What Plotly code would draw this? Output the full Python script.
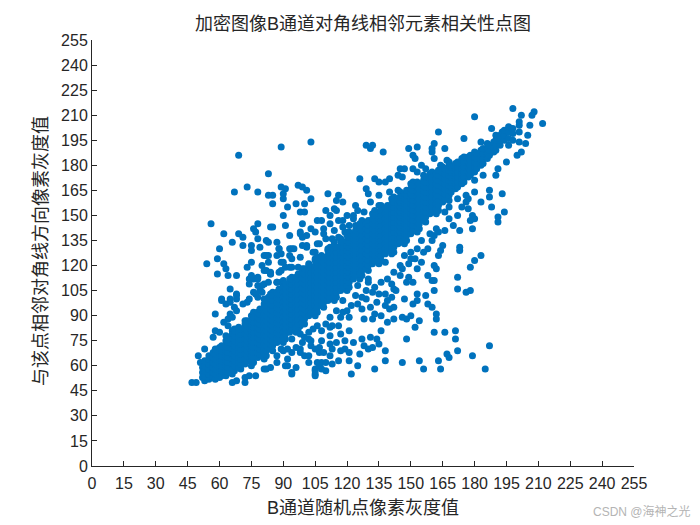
import plotly.graph_objects as go

TITLE = "加密图像B通道对角线相邻元素相关性点图"
X_LABEL = "B通道随机点像素灰度值"
Y_LABEL = "与该点相邻对角线方向像素灰度值"
TICKS = [0,15,30,45,60,75,90,105,120,135,150,165,180,195,210,225,240,255]

core_columns = [
(52,[53,56,59]),(53,[51,54,57,60,63]),(55,[52,55,58,61,64,66]),(57,[53,56,59,62,65,68]),
(58,[52,55,58,61,64,67,70]),(60,[53,56,59,62,65,68,71]),(61,[54,57,60,63,66,69,72]),
(63,[54,57,60,63,66,69,72,75]),(64,[56,59,62,65,68,71,74,77]),(66,[58,61,64,67,70,73,76,79]),
(67,[60,63,66,69,72,75,78,81]),(69,[59,62,65,68,71,74,77,80,83]),(70,[61,64,67,70,73,76,79,82]),
(72,[61,64,67,70,73,76,79,82,85]),(73,[63,66,69,72,75,78,81,84,87]),(75,[63,66,69,72,75,78,81,84,87]),
(76,[65,68,71,74,77,80,83,86,89]),(78,[65,68,71,74,77,80,83,86,89,92]),(79,[67,70,73,76,79,82,85,88,91,94]),
(81,[67,70,73,76,79,82,85,88,91,94,97]),(82,[69,72,75,78,81,84,87,90,93,96,99]),
(84,[70,73,76,79,82,85,88,91,94,97,100]),(85,[72,75,78,81,84,87,90,93,96,99,102]),
(87,[74,77,80,83,86,89,92,95,98,101,104]),(88,[76,79,82,85,88,91,94,97,100,103,106]),
(90,[77,80,83,86,89,92,95,98,101,104,107]),(91,[79,82,85,88,91,94,97,100,103,106,109]),
(93,[80,83,86,89,92,95,98,101,104,107,110]),(94,[82,85,88,91,94,97,100,103,106,109,112]),
(96,[83,86,89,92,95,98,101,104,107,110,113]),(97,[85,88,91,94,97,100,103,106,109,112,115]),
(99,[86,89,92,95,98,101,104,107,110,113,116]),(100,[88,91,94,97,100,103,106,109,112,115,118]),
(102,[90,93,96,99,102,105,108,111,114,117,120]),(103,[92,95,98,101,104,107,110,113,116,119]),
(105,[93,96,99,102,105,108,111,114,117,120,123]),(106,[95,98,101,104,107,110,113,116,119,122]),
(108,[96,99,102,105,108,111,114,117,120,123,126]),(109,[98,101,104,107,110,113,116,119,122,125]),
(111,[99,102,105,108,111,114,117,120,123,126,129]),(112,[101,104,107,110,113,116,119,122,125,128]),
(114,[102,105,108,111,114,117,120,123,126,129,132]),(115,[104,107,110,113,116,119,122,125,128,131]),
(117,[105,108,111,114,117,120,123,126,129,132,135]),(118,[107,110,113,116,119,122,125,128,131,134]),
(120,[108,111,114,117,120,123,126,129,132,135,138]),(121,[110,113,116,119,122,125,128,131,134,137]),
(123,[112,115,118,121,124,127,130,133,136,139]),(124,[114,117,120,123,126,129,132,135,138,141]),
(126,[115,118,121,124,127,130,133,136,139,142]),(127,[117,120,123,126,129,132,135,138,141,144]),
(129,[118,121,124,127,130,133,136,139,142,145]),(130,[120,123,126,129,132,135,138,141,144,147]),
(132,[121,124,127,130,133,136,139,142,145,148]),(133,[123,126,129,132,135,138,141,144,147,150]),
(135,[124,127,130,133,136,139,142,145,148,151]),(136,[126,129,132,135,138,141,144,147,150,153]),
(138,[127,130,133,136,139,142,145,148,151,154]),(139,[129,132,135,138,141,144,147,150,153,156]),
(141,[130,133,136,139,142,145,148,151,154,157]),(142,[131,134,137,140,143,146,149,152,155,158]),
(144,[133,136,139,142,145,148,151,154,157,160]),(145,[134,137,140,143,146,149,152,155,158,161]),
(147,[136,139,142,145,148,151,154,157,160,163]),(148,[138,141,144,147,150,153,156,159,162,165]),
(150,[139,142,145,148,151,154,157,160,163,166]),(151,[141,144,147,150,153,156,159,162,165,168]),
(153,[143,146,149,152,155,158,161,164,167,170]),(154,[145,148,151,154,157,160,163,166,169]),
(156,[147,150,153,156,159,162,165,168,171]),(157,[149,152,155,158,161,164,167,170,173]),
(159,[151,154,157,160,163,166,169,172]),(160,[152,155,158,161,164,167,170,173]),
(162,[154,157,160,163,166,169,172,175]),(163,[156,159,162,165,168,171,174,177]),
(165,[158,161,164,167,170,173,176]),(166,[160,163,166,169,172,175,178]),
(168,[162,165,168,171,174,177,180]),(169,[164,167,170,173,176,179]),
(171,[166,169,172,175,178,181]),(172,[167,170,173,176,179,182]),
(174,[169,172,175,178,181,184]),(175,[170,173,176,179,182,185]),
(177,[173,176,179,182,185]),(178,[174,177,180,183,186]),
(180,[176,179,182,185,188]),(181,[178,181,184,187]),
(183,[180,183,186,189]),(184,[181,184,187,190]),
(186,[184,187,190,193]),(187,[186,189,192]),
(189,[188,191,194]),(190,[189,192,195]),
(192,[192,195,198]),(194,[195,198,201]),(196,[192,196,200,203]),(198,[195,199,202]),
]

fringe_upper = [
(63,78),(66,81),(67,82),(72,87),(75,90),(76,92),(81,100),(84,103),(85,104),(90,109),(93,112),(94,113),(99,118),(102,121),
(105,124),(106,125),(111,130),(112,131),(117,136),(120,139),(121,140),(126,145),(127,147),(132,151),(133,153),(136,156),
(141,160),(142,161),(145,164),(150,169),(151,170),(156,174),(159,175),(160,176),(165,179),(168,182),
(130,145),(124,144),(128,152),(135,150),(108,147),(112,150),(120,150),(113,136),(118,143),(105,140),(110,136),(116,137),
]

fringe_lower = [
(66,55),(67,57),(70,58),(75,60),(76,62),(81,64),(82,66),(85,69),(90,74),(91,76),(96,80),(97,82),(100,85),(105,90),(106,92),
(109,95),(114,99),(115,101),(120,105),(121,107),(126,112),(127,114),(130,117),(135,121),(136,123),(141,127),(142,128),
(147,133),(148,135),(153,140),(154,142),(157,146),(162,151),(163,153),(168,159),
(155,135),(158,130),(150,124),(147,126),(145,120),(155,122),(160,135),(163,140),(168,148),(172,150),(168,155),(172,160),(176,158),
]

upper_left_points = [
(103,194),(89,191),(69,186),(83,175),(67,164),(73,167),(78,164),(83,162),(85,162),(89,167),(91,166),(90,163),(90,160),
(97,168),(99,167),(101,165),(103,160),(85,157),(92,155),(96,157),(100,157),(98,152),(100,152),(90,150),(106,147),(56,145),
(78,145),(84,143),(85,143),(91,144),(99,145),(103,142),(76,142),(77,140),(62,139),(69,139),(71,137),(78,136),(93,138),
(98,140),(99,137),(101,138),(66,134),(71,132),(75,132),(75,129),(60,130),(79,131),(82,135),(83,134),(87,134),(88,130),
(93,130),(95,130),(99,132),(101,131),(106,133),(104,128),(87,126),(89,127),(93,126),(81,126),(83,126),(98,125),(59,124),
(54,121),(62,121),(63,118),(75,122),(73,119),(83,122),(89,122),(94,124),(80,120),(81,117),(59,115),(64,114),(68,114),
(75,114),(74,112),(78,113),(84,115),(88,116),(91,119),(94,119),(83,110),(74,109),(89,110),(65,106),(68,103),(76,104),
(79,105),(80,108),(61,100),(65,100),(68,100),(74,100),(78,101),(58,91),(61,99),(63,97),(65,98),(67,95),(68,93),(65,91),
(64,88),(62,86),(64,84),(66,89),(73,98),(71,97),(68,102),(58,81),(60,80),(57,77),(53,70),(50,66),(51,62),
(98,139),(101,132),(107,133),(114,134),(88,130),(94,130),(82,126),(105,128),(112,129),(90,122),(84,116),(89,117),(93,119),
(76,112),(87,110),(90,111),(81,109),(78,108),(75,113),(78,112),(82,117),(84,115),(77,103),(80,104),(83,101),(87,110),
(90,109),(94,109),(97,119),(98,115),
]

upper_right_points = [
(198,214),(180,209),(202,210),(208,212),(207,210),(212,205),(206,204),(201,206),(201,204),(205,198),(163,200),(188,202),
(190,198),(193,200),(197,202),(201,200),(175,196),(129,192),(132,192),(131,190),(137,188),(149,190),(153,191),(161,193),
(160,190),(160,188),(166,190),(183,194),(204,193),(201,194),(202,188),(200,186),(195,182),(151,186),(152,184),(161,184),
(167,183),(164,180),(155,180),(157,178),(153,176),(145,178),(147,178),(126,172),(133,172),(135,170),(138,170),(140,172),
(144,174),(146,173),(151,178),(129,166),(130,163),(135,162),(140,164),(144,165),(111,163),(116,162),(115,159),(118,158),
(110,153),(114,154),(115,153),(124,156),(131,158),(135,156),(125,153),(123,150),(116,147),(118,147),(112,145),(109,142),
(109,139),(114,141),(123,148),(121,144),(119,140),
]

lower_left_points = [
(47,50),(49,50),(66,50),(68,51),(72,50),(72,53),(74,54),(77,54),(81,58),(84,59),(87,62),(90,69),(89,70),(92,64),(92,60),
(94,56),(96,59),(98,70),(98,68),(100,66),(102,62),(105,58),(105,55),(108,58),(106,62),(102,76),(103,72),(107,68),(94,76),
(87,66),(82,58),(91,60),(94,55),(102,66),(105,54),(105,57),(108,62),(110,62),(112,66),(117,69),(112,73),(107,71),(108,75),
(112,78),(103,75),(106,84),(98,79),(98,84),(112,83),(116,84),(117,79),(112,89),(117,89),(104,82),(102,80),(100,77),(96,71),
(94,68),(92,70),(99,74),(105,70),(109,68),(113,70),(115,74),(119,70),(116,63),(113,61),(110,57),(107,60),(110,85),(108,81),
(113,84),(115,93),(118,92),
]

lower_right_points = [
(193,163),(187,165),(187,161),(183,158),(188,155),(194,152),(191,149),(191,146),(180,164),(179,150),(180,148),(178,147),
(179,142),(173,141),(170,144),(166,141),(177,154),(174,155),(166,152),(177,160),(176,162),(191,178),(190,174),(184,174),
(180,171),(162,142),(159,139),(161,138),(183,126),(180,123),(178,119),(172,113),(172,106),(178,105),(176,104),(173,131),
(173,129),(165,132),(164,129),(163,126),(156,128),(153,130),(150,128),(152,124),(149,121),(153,118),(161,120),(162,118),
(158,114),(160,111),(161,111),(149,113),(151,110),(148,110),(161,105),(153,103),(157,102),(147,100),(153,99),(151,97),
(158,97),(160,95),(162,91),(162,88),(142,95),(140,94),(139,86),(142,88),(146,89),(148,88),(150,90),(154,87),(152,83),
(136,81),(148,76),(161,80),(166,80),(171,81),(171,76),(172,69),(167,67),(168,65),(187,72),(179,66),(185,58),(164,58),
(163,63),(154,63),(156,58),(146,62),(138,63),(138,69),(133,58),(125,60),(122,55),(121,63),(126,67),(121,68),(131,77),
(134,76),(135,73),(132,71),(130,70),(128,72),(127,76),(123,74),(119,75),(121,81),(121,89),(128,88),(132,88),(133,91),
(136,90),(120,93),(127,94),(125,97),(129,100),(129,105),(132,104),(130,110),(138,96),(141,101),(138,103),(143,105),
(141,109),(145,114),(146,118),(142,116),(138,122),(130,112),(125,108),(118,99),(135,103),(133,107),(136,110),(139,112),
(142,106),(134,98),(131,95),(139,99),(127,101),(124,102),(122,96),
]

all_points = fringe_upper + fringe_lower + upper_left_points + upper_right_points + lower_left_points + lower_right_points
xs = [p[0] for p in all_points]
ys = [p[1] for p in all_points]
for cx, cy in core_columns:
    xs.extend([cx] * len(cy))
    ys.extend(cy)

INK = "#262626"
BLUE = "#0072BD"
CJK = "Liberation Sans, Noto Sans CJK SC"

fig = go.Figure(go.Scatter(x=xs, y=ys, mode="markers",
    marker=dict(color=BLUE, size=7, line=dict(width=0)), hoverinfo="skip"))

axis = dict(range=[0, 255], tickmode="array", tickvals=TICKS, ticktext=[str(t) for t in TICKS],
            ticks="inside", ticklen=5, tickwidth=1, tickcolor=INK, showgrid=False, zeroline=False,
            showline=True, linecolor=INK, linewidth=1, automargin=False,
            tickfont=dict(family="Liberation Sans", size=16, color=INK))

fig.update_layout(
    width=690, height=515, autosize=False, showlegend=False,
    paper_bgcolor="white", plot_bgcolor="white",
    margin=dict(l=84, r=64, t=32, b=57),
    xaxis=dict(axis, ticklabelstandoff=3),
    yaxis=dict(axis),
    title=dict(text=TITLE, x=355/690, xanchor="center", y=1-16/515, yanchor="middle",
               font=dict(family=CJK, size=18, color=INK)),
    annotations=[
        dict(text=X_LABEL, x=(362-91)/542, y=(466-508)/426, xref="paper", yref="paper",
             xanchor="center", yanchor="middle", showarrow=False,
             font=dict(family=CJK, size=18, color=INK)),
        dict(text=Y_LABEL, x=(40-91)/542, y=(466-251)/426, xref="paper", yref="paper", textangle=-90,
             xanchor="center", yanchor="middle", showarrow=False,
             font=dict(family=CJK, size=18, color=INK)),
        dict(text="CSDN @海神之光", x=(692-91)/542, y=(466-511)/426, xref="paper", yref="paper",
             xanchor="right", yanchor="middle", showarrow=False,
             font=dict(family=CJK, size=12, color="#b4b4b4")),
    ],
)
fig.write_html("out.html")
